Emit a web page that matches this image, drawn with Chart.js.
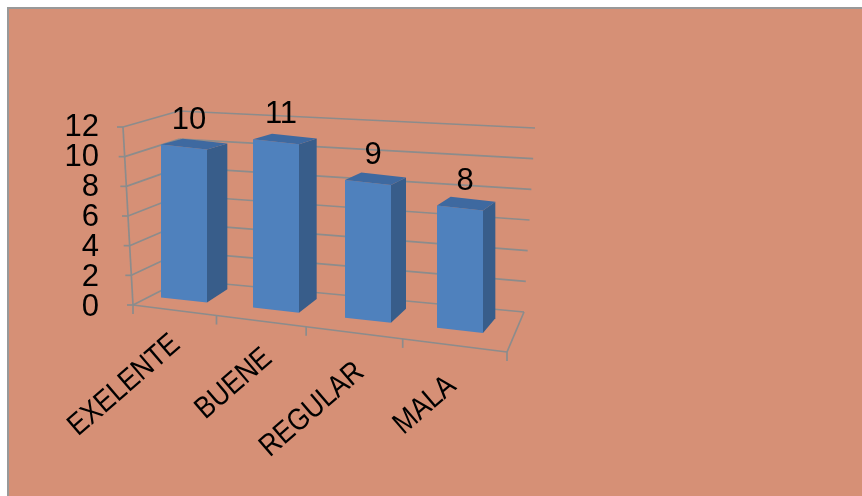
<!DOCTYPE html>
<html>
<head>
<meta charset="utf-8">
<script src="https://cdn.jsdelivr.net/npm/chart.js@4.4.1/dist/chart.umd.min.js"></script>
<style>
    html, body { margin: 0; padding: 0; background: #fff; }
    canvas { display: block; }
</style>
</head>
<body>
<canvas id="grafico" width="862" height="496"></canvas>
<script>
// Calificacion - columnas "3D"

const categorias = ['EXELENTE', 'BUENE', 'REGULAR', 'MALA'];
const valores = [10, 11, 9, 8];
const ticksY = [0, 2, 4, 6, 8, 10, 12];

const fondo = '#d69076';
const azul = '#4f81bd';
const azulLado = '#385d8a';
const azulArriba = '#3e69a0';
const gris = '#8c8c8c';
const fuente = 'Liberation Sans, Arial, sans-serif';

// perspective look
const SHEAR = 0.11;      // bars
const SHEAR_TXT = 0.15;  // category labels
const VSCALE = 1.02;
const DROP = -7;

// floor / walls corners
const caja = {
    flb: [133, 305], flt: [123, 127],
    blb: [182, 280], blt: [179, 111],
    brb: [524, 312], brt: [535, 128],
    frb: [507, 352]
};

function lerp(p, q, t) {
    return [p[0] + (q[0] - p[0]) * t, p[1] + (q[1] - p[1]) * t];
}

function pivot(chart) {
    const a = chart.chartArea;
    return a.left + (a.right - a.left) / 8;
}

function T(chart, x, y) {
    const a = chart.chartArea;
    return [x, a.bottom + DROP + VSCALE * (y - a.bottom) + SHEAR * (x - pivot(chart))];
}

function applyT(chart, k) {
    const a = chart.chartArea;
    chart.ctx.transform(1, k, 0, VSCALE, 0, a.bottom * (1 - VSCALE) + DROP - k * pivot(chart));
}

function prof(p) {
    return [21 - 0.029 * (p[0] - 184), -6 - 0.047 * (p[1] - 150)];
}

function linea(ctx, p, q) {
    ctx.beginPath();
    ctx.moveTo(p[0], p[1]);
    ctx.lineTo(q[0], q[1]);
    ctx.stroke();
}

function poly(ctx, pts, color) {
    ctx.beginPath();
    ctx.moveTo(pts[0][0], pts[0][1]);
    for (let i = 1; i < pts.length; i++) ctx.lineTo(pts[i][0], pts[i][1]);
    ctx.closePath();
    ctx.fillStyle = color;
    ctx.fill();
}

function dibujarCaja(chart) {
    const ctx = chart.ctx;
    const a = chart.chartArea;
    const y = chart.scales.y;
    ctx.save();
    ctx.strokeStyle = gris;
    ctx.lineWidth = 1.7;
    ticksY.forEach(t => {
        const f = (a.bottom - y.getPixelForValue(t)) / (a.bottom - a.top);
        const fl = lerp(caja.flb, caja.flt, f);
        const bl = lerp(caja.blb, caja.blt, f);
        const br = lerp(caja.brb, caja.brt, f);
        linea(ctx, fl, bl);
        linea(ctx, bl, br);
        linea(ctx, [fl[0] - 6, fl[1]], fl);
    });
    linea(ctx, caja.flb, caja.flt);
    linea(ctx, caja.brb, caja.frb);
    linea(ctx, caja.flb, caja.frb);
    // category ticks on the front edge
    const n = categorias.length;
    for (let i = 0; i <= n; i++) {
        const u = i / n;
        const up = u / (u + (1 - u) * 1.16);
        const p = lerp(caja.flb, caja.frb, up);
        linea(ctx, p, [p[0], p[1] + 9]);
    }
    ctx.restore();
}

const tresD = {
    id: 'tresD',
    beforeDraw(chart) {
        const ctx = chart.ctx;
        const w = chart.width, h = chart.height;
        ctx.save();
        ctx.fillStyle = '#fff';
        ctx.fillRect(0, 0, w, h);
        ctx.fillStyle = fondo;
        ctx.fillRect(8, 8, w - 8, h - 8);
        ctx.strokeStyle = '#999';
        ctx.lineWidth = 2;
        ctx.beginPath();
        ctx.moveTo(8, h);
        ctx.lineTo(8, 8);
        ctx.lineTo(w, 8);
        ctx.stroke();
        ctx.restore();
    },
    beforeDatasetsDraw(chart) {
        dibujarCaja(chart);
        chart.ctx.save();
        applyT(chart, SHEAR);
    },
    afterDatasetsDraw(chart) {
        const ctx = chart.ctx;
        ctx.restore();
        chart.getDatasetMeta(0).data.forEach(el => {
            const b = el.getProps(['x', 'y', 'base', 'width'], true);
            const tl = T(chart, b.x - b.width / 2, b.y);
            const tr = T(chart, b.x + b.width / 2, b.y);
            const br = T(chart, b.x + b.width / 2, b.base);
            const dl = prof(tl), dr = prof(tr), db = prof(br);
            poly(ctx, [tr, br, [br[0] + db[0], br[1] + db[1]], [tr[0] + dr[0], tr[1] + dr[1]]], azulLado);
            poly(ctx, [tl, tr, [tr[0] + dr[0], tr[1] + dr[1]], [tl[0] + dl[0], tl[1] + dl[1]]], azulArriba);
        });
        // x labels (ticks.z = 1) are drawn after this, in a slanted space
        ctx.save();
        applyT(chart, SHEAR_TXT);
    },
    afterDraw(chart) {
        const ctx = chart.ctx;
        ctx.restore();
        ctx.save();
        ctx.fillStyle = '#000';
        ctx.font = '31px ' + fuente;
        ctx.textAlign = 'center';
        ctx.textBaseline = 'middle';
        chart.getDatasetMeta(0).data.forEach((el, i) => {
            const b = el.getProps(['x', 'y'], true);
            const p = T(chart, b.x, b.y);
            ctx.fillText(String(valores[i]), p[0] + 5, p[1] - 27);
        });
        ctx.restore();
    }
};

const data = {
    labels: categorias,
    datasets: [
        {
            data: valores,
            backgroundColor: azul,
            borderWidth: 0,
            barPercentage: 0.5,
            categoryPercentage: 1,
            clip: false
        }
    ]
};

const config = {
    type: 'bar',
    data: data,
    options: {
        responsive: false,
        animation: false,
        devicePixelRatio: 1,
        layout: { padding: { top: 127, right: 356, left: 0, bottom: 0 } },
        plugins: {
            legend: { display: false },
            tooltip: { enabled: false }
        },
        scales: {
            x: {
                grid: { display: false, drawTicks: false },
                border: { display: false },
                ticks: {
                    z: 1,
                    autoSkip: false,
                    minRotation: 45,
                    maxRotation: 45,
                    padding: 29,
                    labelOffset: -8,
                    color: '#000',
                    font: { family: fuente, size: 28 }
                },
                afterFit: s => { s.height = 189; }
            },
            y: {
                min: 0,
                max: 12,
                grid: { display: false, drawTicks: false },
                border: { display: false },
                ticks: {
                    stepSize: 2,
                    autoSkip: false,
                    padding: 39,
                    color: '#000',
                    font: { family: fuente, size: 31 }
                },
                afterFit: s => { s.width = 138; }
            }
        }
    },
    plugins: [tresD]
};

const grafico = new Chart(document.getElementById('grafico'), config);
</script>
</body>
</html>
